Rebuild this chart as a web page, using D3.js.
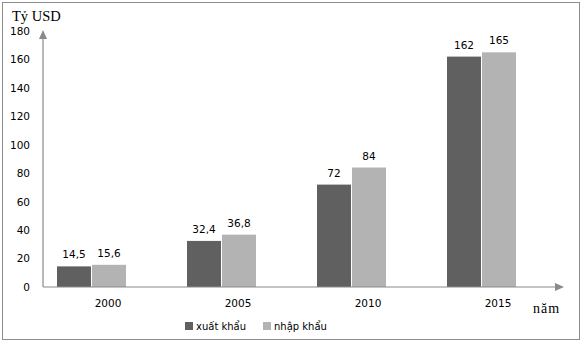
<!DOCTYPE html>
<html>
<head>
<meta charset="utf-8">
<script src="https://cdn.jsdelivr.net/npm/d3@7"></script>
<style>
  html, body { margin: 0; padding: 0; background: #fff; }
  svg { display: block; }
</style>
</head>
<body>
<svg id="chart" width="582" height="342"></svg>
<script>
// Xuất khẩu / nhập khẩu theo năm (tỷ USD)
const years = ["2000", "2005", "2010", "2015"];
const seriesNames = ["xuất khẩu", "nhập khẩu"];
const exportValues = [14.5, 32.4, 72, 162];
const importValues = [15.6, 36.8, 84, 165];
const yTicks = [0, 20, 40, 60, 80, 100, 120, 140, 160, 180];

const colors = { "xuất khẩu": "#606060", "nhập khẩu": "#b3b3b3" };
const axisColor = "#8a8a8a";
const numFont = "'DejaVu Sans', Verdana, sans-serif";
const serifFont = "'Liberation Serif', 'DejaVu Serif', serif";

const svg = d3.select("#chart");

// outer frame
svg.append("rect")
  .attr("x", 2.5).attr("y", 2.5)
  .attr("width", 577).attr("height", 337)
  .attr("fill", "none").attr("stroke", "#8c8c8c").attr("stroke-width", 1);

const plot = { left: 43, right: 563, top: 31, bottom: 287 };

const y = d3.scaleLinear().domain([0, 180]).range([plot.bottom, plot.top]);
const x0 = d3.scaleBand().domain(years).range([plot.left, plot.right]).padding(0);
// three slots per category; the third one stays empty
const x1 = d3.scaleBand().domain([...seriesNames, "_"]).range([14, 14 + 105]).padding(0);

const rows = years.map((yr, i) => ({
  year: yr,
  values: [
    { name: seriesNames[0], value: exportValues[i] },
    { name: seriesNames[1], value: importValues[i] }
  ]
}));

const fmt = v => String(v).replace(".", ",");

// bars
const groups = svg.append("g").selectAll("g")
  .data(rows).join("g")
  .attr("transform", d => `translate(${x0(d.year)},0)`);

groups.selectAll("rect")
  .data(d => d.values).join("rect")
  .attr("x", d => x1(d.name))
  .attr("y", d => y(d.value))
  .attr("width", x1.bandwidth() - 1)
  .attr("height", d => y(0) - y(d.value))
  .attr("fill", d => colors[d.name]);

// value labels
groups.selectAll("text")
  .data(d => d.values).join("text")
  .attr("x", d => x1(d.name) + (x1.bandwidth() - 1) / 2)
  .attr("y", d => y(d.value) - 8)
  .attr("text-anchor", "middle")
  .attr("font-family", numFont).attr("font-size", 10.5)
  .attr("fill", "#000")
  .text(d => fmt(d.value));

// y axis (labels only, no ticks)
const yAxis = d3.axisLeft(y).tickValues(yTicks).tickSize(0).tickPadding(13);
const gy = svg.append("g").attr("transform", `translate(${plot.left},0)`).call(yAxis);
gy.select(".domain").remove();
gy.selectAll("text")
  .attr("font-family", numFont).attr("font-size", 10.5).attr("fill", "#000");

// x axis (labels only)
const xAxis = d3.axisBottom(x0).tickSize(0).tickPadding(13);
const gx = svg.append("g").attr("transform", `translate(0,${plot.bottom})`).call(xAxis);
gx.select(".domain").remove();
gx.selectAll("text")
  .attr("font-family", numFont).attr("font-size", 10.5).attr("fill", "#000");

// axis lines with arrowheads
svg.append("line")
  .attr("x1", plot.left).attr("y1", plot.bottom)
  .attr("x2", plot.left).attr("y2", plot.top + 6)
  .attr("stroke", axisColor).attr("stroke-width", 1.2);
svg.append("path")
  .attr("d", `M${plot.left},${plot.top - 1} L${plot.left - 4},${plot.top + 8} L${plot.left + 4},${plot.top + 8} Z`)
  .attr("fill", axisColor);

svg.append("line")
  .attr("x1", plot.left).attr("y1", plot.bottom)
  .attr("x2", plot.right - 6).attr("y2", plot.bottom)
  .attr("stroke", axisColor).attr("stroke-width", 1.2);
svg.append("path")
  .attr("d", `M${plot.right + 1},${plot.bottom} L${plot.right - 8},${plot.bottom - 4} L${plot.right - 8},${plot.bottom + 4} Z`)
  .attr("fill", axisColor);

// axis titles
svg.append("text")
  .attr("x", 12).attr("y", 21)
  .attr("font-family", serifFont).attr("font-size", 14.5).attr("fill", "#000")
  .text("Tỷ USD");
svg.append("text")
  .attr("x", 533).attr("y", 313)
  .attr("font-family", serifFont).attr("font-size", 14).attr("letter-spacing", 1)
  .attr("fill", "#000")
  .text("năm");

// legend
const legendX = [185, 263];
const legend = svg.append("g").selectAll("g")
  .data(seriesNames).join("g")
  .attr("transform", (d, i) => `translate(${legendX[i]},322)`);
legend.append("rect")
  .attr("width", 8).attr("height", 8)
  .attr("fill", d => colors[d]);
legend.append("text")
  .attr("x", 11).attr("y", 8)
  .attr("font-family", numFont).attr("font-size", 10).attr("fill", "#000")
  .text(d => d);
</script>
</body>
</html>
